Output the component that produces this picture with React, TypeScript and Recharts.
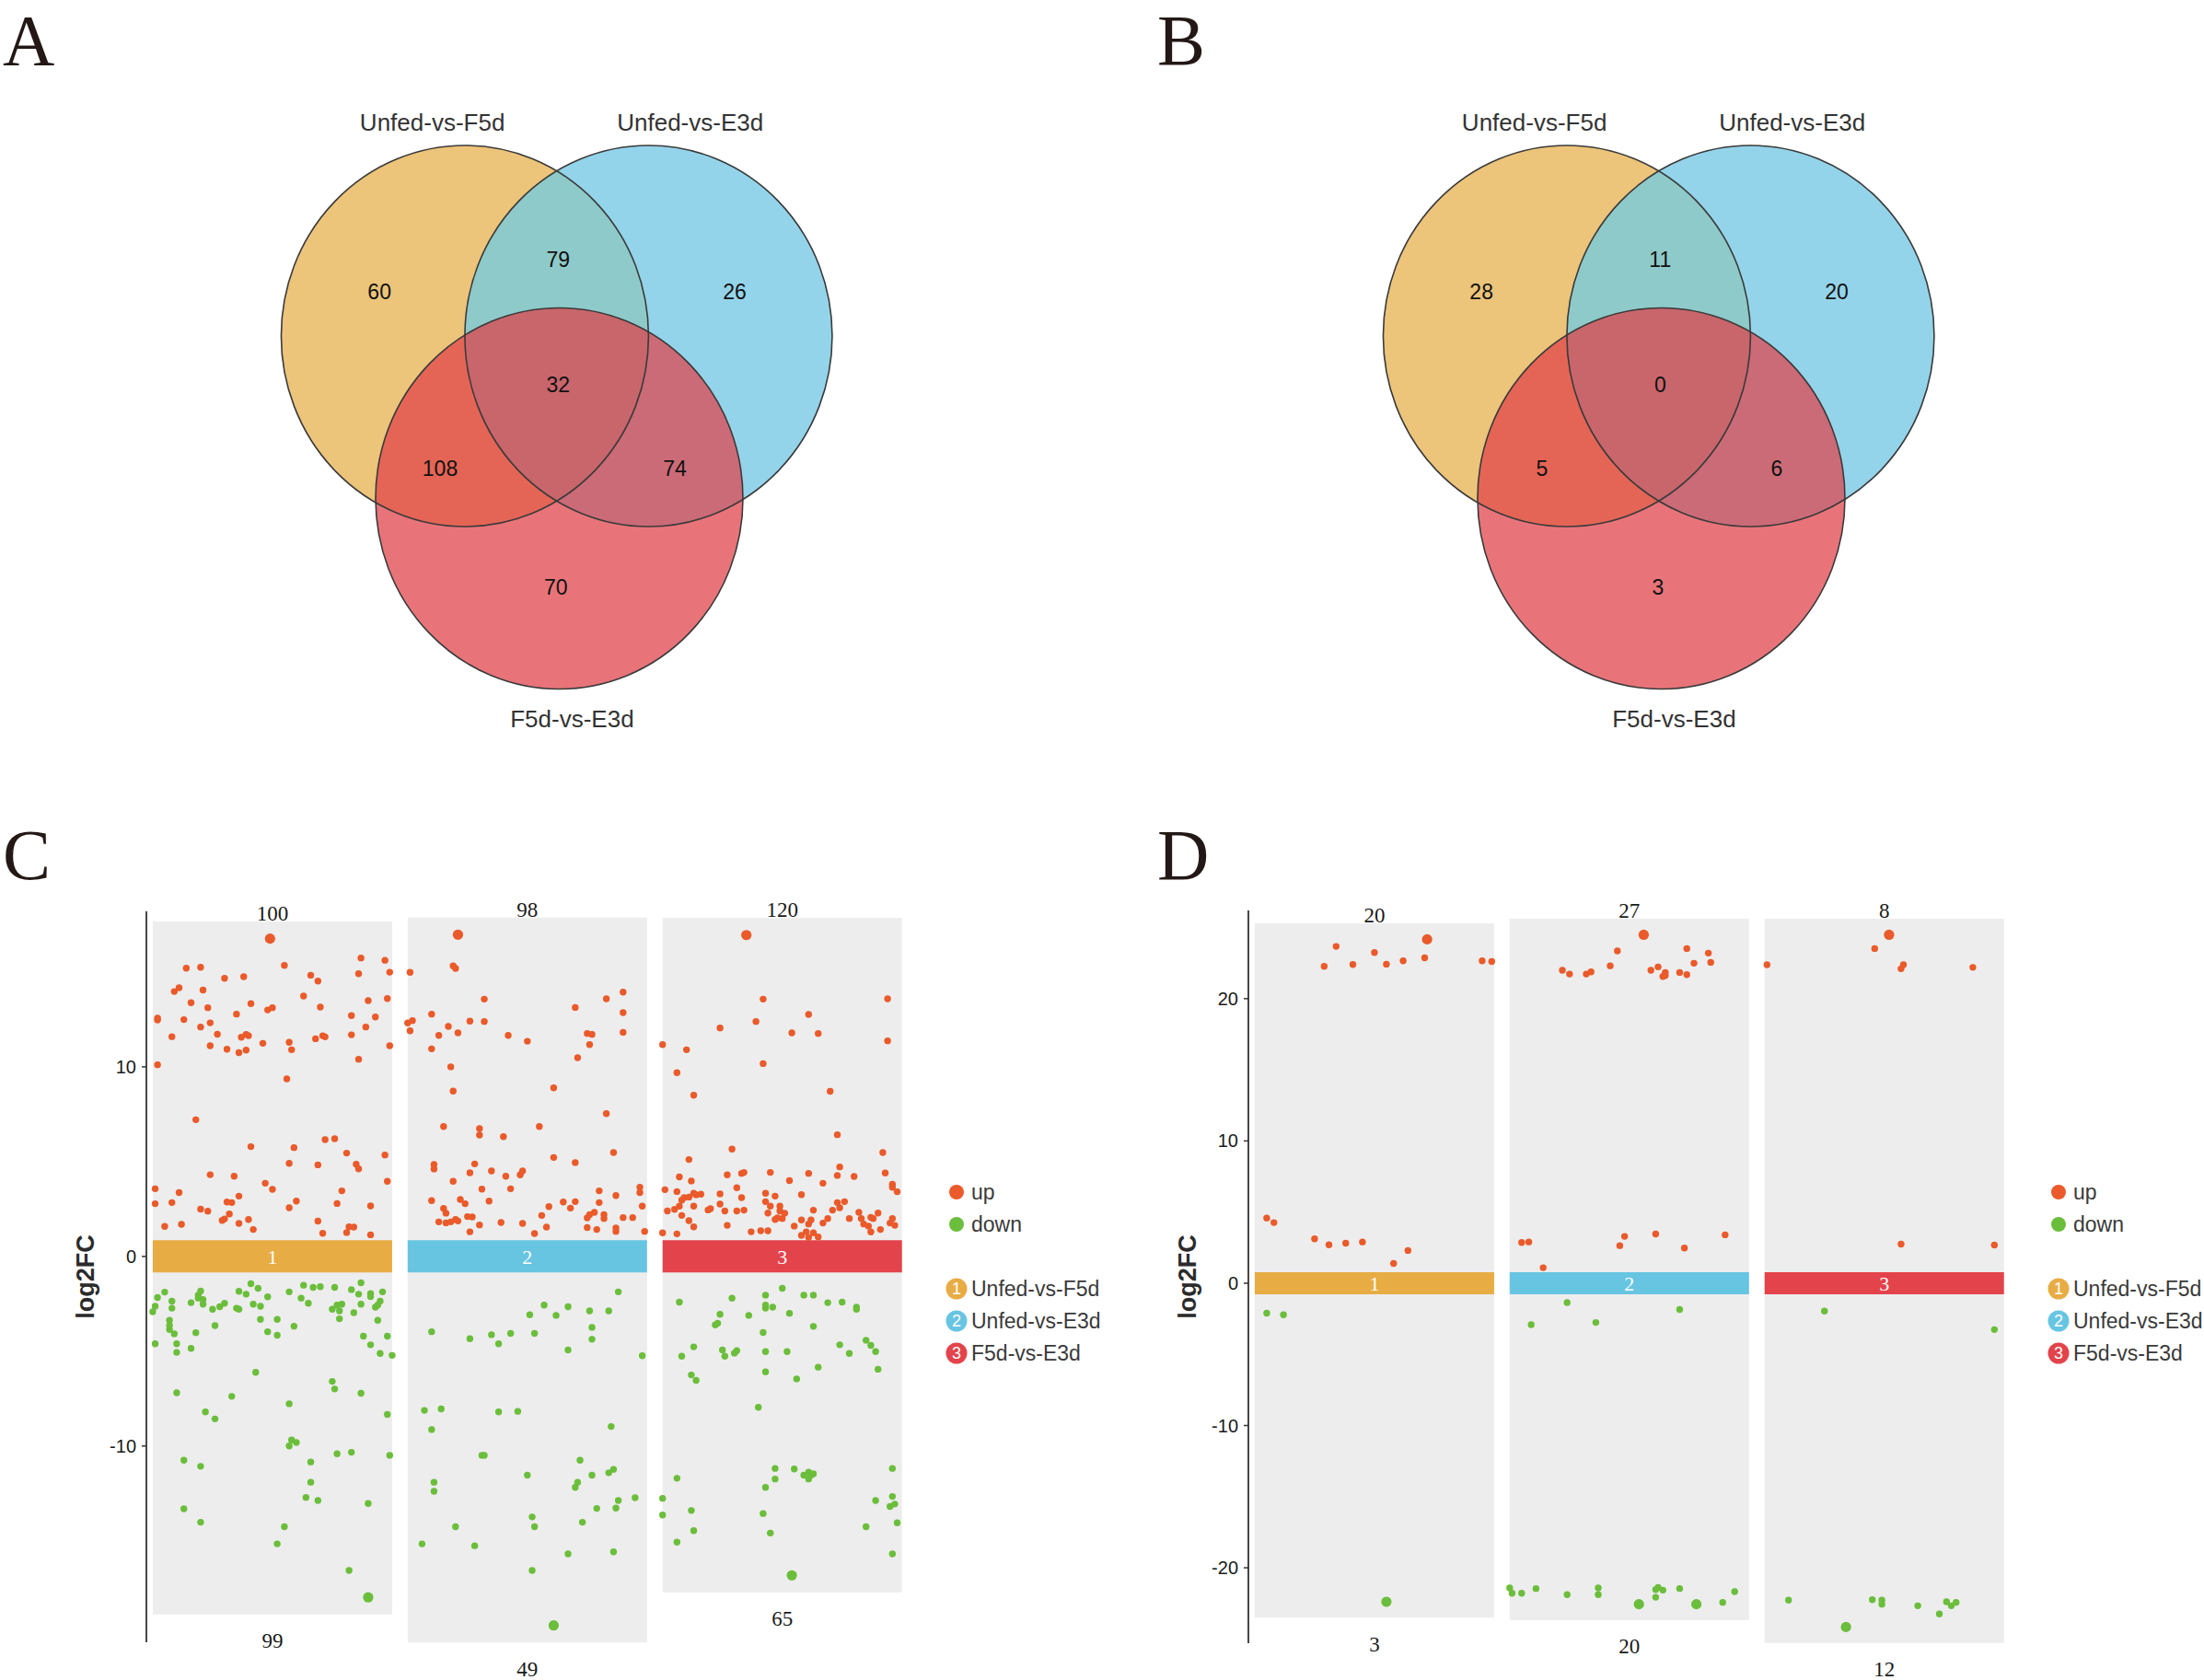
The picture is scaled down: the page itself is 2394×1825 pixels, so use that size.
import React from "react";
import { ScatterChart, Scatter, XAxis, YAxis, ReferenceArea } from "recharts";

const SANS = '"Liberation Sans", Arial, sans-serif';
const SERIF = '"Liberation Serif", "Times New Roman", serif';

const groups = ["Unfed-vs-F5d", "Unfed-vs-E3d", "F5d-vs-E3d"];
const groupColors = ["#E8AC45", "#68C5E2", "#E3434B"];
const UP_COLOR = "#EA5A2A";
const DOWN_COLOR = "#6BBE3B";

// venn region counts, order: only 1, 1&2, only 2, 1&2&3, 1&3, 2&3, only 3
const vennRegionKeys = ["1", "12", "2", "123", "13", "23", "3"];
const vennCountsA = [60, 79, 26, 32, 108, 74, 70];
const vennCountsB = [28, 11, 20, 0, 5, 6, 3];

// jitter scatter: [position inside group 0..1, log2FC]
type Pair = [number, number];

const cUp1: Pair[] = [
  [0.49, 16.76], [0.55, 15.35], [0.87, 15.74], [0.97, 15.62], [0.99, 14.99], [0.86, 14.91], [0.14, 15.2], [0.2, 15.25],
  [0.3, 14.67], [0.38, 14.75], [0.66, 14.83], [0.69, 14.52], [0.09, 13.97], [0.11, 14.17], [0.21, 14.05], [0.63, 13.73],
  [0.16, 13.38], [0.23, 13.12], [0.41, 13.33], [0.48, 13.0], [0.5, 13.12], [0.7, 13.15], [0.9, 13.49], [0.98, 13.6],
  [0.02, 12.57], [0.02, 12.47], [0.13, 12.49], [0.2, 12.1], [0.24, 12.32], [0.35, 12.78], [0.83, 12.7], [0.93, 12.63],
  [0.89, 12.1], [0.08, 11.59], [0.27, 11.72], [0.37, 11.56], [0.39, 11.71], [0.4, 11.64], [0.24, 11.11], [0.31, 10.93],
  [0.36, 10.75], [0.39, 10.88], [0.46, 11.24], [0.57, 11.29], [0.58, 10.9], [0.68, 11.48], [0.71, 11.64], [0.72, 11.58],
  [0.83, 11.69], [0.99, 11.11], [0.02, 10.11], [0.86, 10.4], [0.56, 9.36], [0.18, 7.21], [0.41, 5.79], [0.72, 6.16],
  [0.76, 6.21], [0.59, 5.74], [0.81, 5.45], [0.97, 5.35], [0.57, 4.91], [0.69, 4.83], [0.85, 4.86], [0.86, 4.62],
  [0.24, 4.31], [0.34, 4.23], [0.98, 3.96], [0.01, 3.57], [0.11, 3.37], [0.47, 3.86], [0.5, 3.54], [0.79, 3.46],
  [0.01, 2.78], [0.08, 2.84], [0.2, 2.49], [0.23, 2.39], [0.31, 2.87], [0.33, 2.84], [0.36, 3.18], [0.32, 2.24],
  [0.29, 1.9], [0.3, 1.98], [0.36, 1.74], [0.4, 1.95], [0.42, 1.42], [0.05, 1.58], [0.12, 1.69], [0.57, 2.57],
  [0.6, 2.92], [0.69, 1.86], [0.71, 1.22], [0.77, 2.79], [0.81, 1.26], [0.82, 1.56], [0.84, 1.55], [0.91, 1.14],
  [0.91, 2.66],
];
const cUp2: Pair[] = [
  [0.21, 16.97], [0.19, 15.32], [0.2, 15.19], [0.01, 14.98], [0.32, 13.57], [0.9, 13.94], [0.83, 13.59], [0.7, 13.13],
  [0.1, 12.78], [0.9, 12.86], [0.0, 12.31], [0.02, 12.44], [0.17, 12.13], [0.26, 12.41], [0.32, 12.39], [0.01, 11.9],
  [0.13, 11.66], [0.21, 11.79], [0.42, 11.66], [0.5, 11.35], [0.75, 11.76], [0.77, 11.71], [0.9, 11.82], [0.76, 11.17],
  [0.1, 10.95], [0.71, 10.48], [0.18, 10.0], [0.19, 8.72], [0.61, 8.89], [0.83, 7.53], [0.15, 6.85], [0.3, 6.74],
  [0.3, 6.4], [0.4, 6.32], [0.55, 6.85], [0.61, 5.22], [0.86, 5.48], [0.7, 4.95], [0.11, 4.85], [0.11, 4.61],
  [0.28, 4.88], [0.26, 4.41], [0.35, 4.51], [0.41, 4.23], [0.47, 4.3], [0.48, 4.51], [0.19, 3.96], [0.31, 3.55],
  [0.43, 3.57], [0.8, 3.46], [0.87, 3.21], [0.97, 3.65], [0.97, 3.37], [0.1, 2.94], [0.22, 3.0], [0.24, 2.78],
  [0.34, 2.92], [0.15, 2.53], [0.16, 2.28], [0.13, 1.82], [0.16, 1.77], [0.18, 1.82], [0.2, 1.95], [0.21, 1.87],
  [0.25, 2.1], [0.27, 2.08], [0.26, 1.3], [0.3, 1.66], [0.39, 1.79], [0.48, 1.74], [0.53, 1.21], [0.56, 2.16],
  [0.58, 1.55], [0.59, 2.63], [0.65, 2.87], [0.68, 2.55], [0.7, 2.89], [0.75, 1.52], [0.75, 2.03], [0.76, 2.2],
  [0.79, 1.42], [0.8, 2.84], [0.82, 2.2], [0.82, 2.0], [0.87, 1.5], [0.87, 1.32], [0.9, 2.05], [0.94, 2.05],
  [0.99, 1.32], [0.98, 2.65], [0.78, 2.32],
];
const cUp3: Pair[] = [
  [0.35, 16.95], [0.42, 13.57], [0.94, 13.59], [0.61, 12.76], [0.39, 12.39], [0.24, 12.05], [0.54, 11.79], [0.65, 11.76],
  [0.94, 11.37], [0.0, 11.17], [0.1, 10.9], [0.42, 10.17], [0.06, 9.69], [0.13, 8.5], [0.7, 8.71], [0.73, 6.42],
  [0.29, 5.66], [0.92, 5.48], [0.11, 5.11], [0.74, 4.72], [0.07, 4.19], [0.27, 4.3], [0.33, 4.38], [0.34, 4.43],
  [0.45, 4.43], [0.61, 4.38], [0.73, 4.27], [0.8, 4.22], [0.93, 4.4], [0.12, 3.98], [0.67, 3.86], [0.96, 3.81],
  [0.96, 3.65], [0.98, 3.41], [0.01, 3.52], [0.06, 3.42], [0.09, 3.1], [0.08, 2.97], [0.13, 3.33], [0.14, 3.25],
  [0.16, 3.28], [0.11, 3.13], [0.13, 2.65], [0.24, 3.3], [0.31, 3.62], [0.33, 3.1], [0.43, 3.33], [0.47, 3.18],
  [0.58, 3.26], [0.02, 2.4], [0.05, 2.48], [0.07, 2.65], [0.08, 2.16], [0.11, 1.89], [0.13, 1.56], [0.19, 2.45],
  [0.2, 2.52], [0.24, 2.76], [0.26, 2.4], [0.27, 1.64], [0.31, 2.4], [0.34, 2.44], [0.43, 2.89], [0.45, 2.65],
  [0.44, 2.29], [0.49, 2.65], [0.49, 2.4], [0.51, 2.28], [0.5, 2.0], [0.47, 1.95], [0.48, 2.03], [0.53, 4.0],
  [0.55, 1.6], [0.58, 1.92], [0.6, 1.3], [0.61, 1.71], [0.62, 1.92], [0.63, 1.24], [0.63, 2.44], [0.65, 1.03],
  [0.67, 1.76], [0.69, 2.0], [0.71, 2.44], [0.73, 2.84], [0.74, 2.57], [0.76, 2.89], [0.78, 2.0], [0.82, 2.32],
  [0.83, 2.0], [0.84, 1.71], [0.86, 1.6], [0.87, 2.06], [0.87, 1.29], [0.88, 2.0], [0.9, 2.29], [0.91, 1.42],
  [0.95, 1.76], [0.96, 2.0], [0.97, 1.64], [0.37, 1.3], [0.41, 1.35], [0.44, 1.35], [0.06, 1.19], [0.0, 1.24],
  [0.58, 1.11], [0.61, 1.0],
];
const cDown1: Pair[] = [
  [0.0, -2.92], [0.01, -2.63], [0.02, -2.17], [0.05, -1.88], [0.08, -2.36], [0.08, -2.73], [0.07, -3.37], [0.07, -3.65],
  [0.07, -3.86], [0.09, -4.08], [0.01, -4.61], [0.1, -4.61], [0.1, -5.06], [0.16, -4.85], [0.18, -4.02], [0.16, -2.44],
  [0.19, -2.04], [0.2, -1.83], [0.21, -2.28], [0.21, -2.52], [0.19, -2.2], [0.25, -2.79], [0.26, -3.65], [0.28, -2.65],
  [0.3, -2.47], [0.36, -1.84], [0.35, -2.73], [0.36, -2.79], [0.39, -1.99], [0.41, -1.44], [0.44, -1.68], [0.42, -2.52],
  [0.45, -2.63], [0.48, -2.13], [0.45, -3.32], [0.48, -3.97], [0.52, -4.16], [0.52, -3.32], [0.57, -1.87], [0.62, -2.2],
  [0.63, -1.52], [0.65, -2.47], [0.67, -1.63], [0.7, -1.6], [0.59, -3.68], [0.76, -1.63], [0.75, -2.79], [0.77, -2.57],
  [0.78, -2.87], [0.78, -3.29], [0.79, -2.52], [0.83, -1.75], [0.84, -2.97], [0.86, -1.99], [0.87, -1.39], [0.87, -2.52],
  [0.91, -2.12], [0.91, -1.96], [0.93, -2.68], [0.94, -2.57], [0.95, -2.36], [0.96, -1.87], [0.94, -3.37], [0.88, -4.21],
  [0.91, -4.66], [0.95, -5.12], [0.98, -4.21], [1.0, -5.22], [0.43, -6.11], [0.1, -7.19], [0.33, -7.38], [0.22, -8.2],
  [0.26, -8.57], [0.57, -7.77], [0.75, -6.59], [0.76, -6.99], [0.87, -7.22], [0.98, -8.33], [0.13, -10.75], [0.2, -11.07],
  [0.57, -10.0], [0.58, -9.68], [0.6, -9.81], [0.66, -10.84], [0.66, -11.91], [0.64, -12.71], [0.69, -12.87], [0.77, -10.41],
  [0.83, -10.33], [0.99, -10.49], [0.13, -13.31], [0.2, -14.02], [0.55, -14.26], [0.52, -15.16], [0.9, -13.03], [0.82, -16.56],
  [0.9, -17.98],
];
const cDown2: Pair[] = [
  [0.88, -1.87], [0.57, -2.57], [0.67, -2.65], [0.51, -3.08], [0.62, -3.11], [0.76, -2.87], [0.84, -2.87], [0.1, -3.97],
  [0.26, -4.34], [0.35, -4.13], [0.38, -4.61], [0.43, -4.06], [0.53, -4.06], [0.77, -3.74], [0.77, -4.37], [0.67, -4.93],
  [0.98, -5.24], [0.07, -8.12], [0.14, -8.04], [0.1, -9.13], [0.38, -8.2], [0.46, -8.17], [0.85, -8.97], [0.31, -10.49],
  [0.32, -10.49], [0.72, -10.75], [0.5, -11.54], [0.71, -11.91], [0.7, -12.18], [0.77, -11.54], [0.84, -11.41], [0.86, -11.23],
  [0.11, -11.91], [0.11, -12.39], [0.95, -12.73], [0.88, -12.87], [0.87, -13.27], [0.79, -13.29], [0.52, -13.74], [0.53, -14.26],
  [0.73, -14.02], [0.2, -14.26], [0.06, -15.16], [0.28, -15.26], [0.67, -15.69], [0.86, -15.58], [0.52, -16.56], [0.61, -19.46],
];
const cDown3: Pair[] = [
  [0.5, -1.68], [0.59, -2.04], [0.63, -2.04], [0.43, -2.04], [0.07, -2.41], [0.29, -2.2], [0.69, -2.44], [0.75, -2.41],
  [0.81, -2.68], [0.81, -2.79], [0.43, -2.73], [0.43, -2.57], [0.46, -2.68], [0.53, -3.0], [0.24, -3.05], [0.36, -3.11],
  [0.23, -3.53], [0.22, -3.61], [0.63, -3.69], [0.42, -4.01], [0.13, -4.77], [0.08, -5.26], [0.25, -4.93], [0.26, -5.26],
  [0.3, -5.1], [0.31, -4.97], [0.43, -5.02], [0.52, -5.02], [0.74, -4.66], [0.78, -5.12], [0.85, -4.42], [0.87, -4.69],
  [0.89, -5.02], [0.9, -5.95], [0.65, -5.84], [0.43, -6.09], [0.12, -6.25], [0.14, -6.54], [0.56, -6.46], [0.4, -7.96],
  [0.06, -11.7], [0.47, -11.18], [0.55, -11.21], [0.47, -11.74], [0.43, -12.18], [0.59, -11.54], [0.61, -11.38], [0.62, -11.54],
  [0.61, -11.74], [0.63, -11.46], [0.96, -11.18], [0.0, -12.76], [0.0, -13.64], [0.12, -13.4], [0.13, -14.46], [0.06, -15.07],
  [0.42, -13.56], [0.45, -14.59], [0.85, -14.26], [0.89, -12.87], [0.96, -12.66], [0.95, -13.19], [0.97, -13.06], [0.98, -14.05],
  [0.96, -15.69], [0.54, -16.82],
];
const cTopCounts = [100, 98, 120];
const cBottomCounts = [99, 49, 65];
const cTicks = [-10, 0, 10];

const dUp1: Pair[] = [
  [0.05, 4.58], [0.08, 4.26], [0.25, 3.12], [0.31, 2.7], [0.38, 2.81], [0.45, 2.9], [0.58, 1.39], [0.64, 2.3],
  [0.29, 22.27], [0.34, 23.67], [0.41, 22.4], [0.5, 23.24], [0.55, 22.42], [0.62, 22.66], [0.71, 22.87], [0.72, 24.17],
  [0.95, 22.66], [0.99, 22.61],
];
const dUp2: Pair[] = [
  [0.56, 24.49], [0.45, 23.35], [0.74, 23.52], [0.83, 23.2], [0.84, 22.55], [0.77, 22.49], [0.42, 22.31], [0.22, 21.99],
  [0.25, 21.73], [0.32, 21.73], [0.34, 21.88], [0.59, 21.99], [0.62, 22.23], [0.65, 21.84], [0.65, 21.62], [0.64, 21.56],
  [0.71, 21.84], [0.74, 21.69], [0.05, 2.86], [0.08, 2.9], [0.14, 1.09], [0.46, 2.64], [0.48, 3.29], [0.61, 3.46],
  [0.73, 2.47], [0.9, 3.4],
];
const dUp3: Pair[] = [
  [0.52, 24.49], [0.46, 23.52], [0.58, 22.38], [0.57, 22.1], [0.01, 22.38], [0.87, 22.2], [0.57, 2.75], [0.96, 2.68],
];
const dDown1: Pair[] = [[0.05, -2.11], [0.12, -2.22], [0.55, -22.39]];
const dDown2: Pair[] = [
  [0.24, -1.36], [0.71, -1.85], [0.09, -2.91], [0.36, -2.76], [0.0, -21.42], [0.01, -21.79], [0.05, -21.79], [0.11, -21.46],
  [0.24, -21.89], [0.37, -21.42], [0.37, -21.89], [0.54, -22.56], [0.61, -22.07], [0.61, -21.53], [0.62, -21.38], [0.64, -21.57],
  [0.71, -21.46], [0.78, -22.56], [0.89, -22.43], [0.94, -21.68],
];
const dDown3: Pair[] = [
  [0.25, -1.96], [0.96, -3.26], [0.1, -22.28], [0.45, -22.24], [0.49, -22.28], [0.49, -22.56], [0.64, -22.67], [0.73, -23.25],
  [0.76, -22.39], [0.78, -22.67], [0.8, -22.43], [0.34, -24.16],
];
const dTopCounts = [20, 27, 8];
const dBottomCounts = [3, 20, 12];
const dTicks = [-20, -10, 0, 10, 20];

// ---------- venn layout (unit circles) ----------
const VENN_W = 1197;
const VENN_H = 880;
const VX: [number, number] = [-3.031, 2.969];
const VY: [number, number] = [-2.488, 1.763];
const vennCenters = [[-0.5, 0], [0.5, 0], [0.014, -0.853]];
const vennNamePos = [[-0.677, 1.121], [0.727, 1.121], [0.084, -2.009]];
const vennCountPos: Record<string, number[]> = {
  "1": [-0.965, 0.232], "12": [0.008, 0.404], "2": [0.969, 0.232], "123": [0.008, -0.256],
  "13": [-0.635, -0.693], "23": [0.643, -0.693], "3": [-0.004, -1.317],
};
const vennSoloFill = ["#ECC47A", "#94D4EA", "#E8747A"];
const vennOverlaps = [
  { key: "12", base: 1, clips: [0], fill: "#8ECAC9" },
  { key: "13", base: 2, clips: [0], fill: "#E46556" },
  { key: "23", base: 2, clips: [1], fill: "#CB6B77" },
  { key: "123", base: 2, clips: [0, 1], fill: "#C8666C" },
];

function Venn({ id, counts, left }: { id: string; counts: number[]; left: number }) {
  const rx = VENN_W / (VX[1] - VX[0]);
  const ry = VENN_H / (VY[1] - VY[0]);
  const sets = groups.map((name, i) => ({ x: vennCenters[i][0], y: vennCenters[i][1], i, name }));
  const overlaps = vennOverlaps.map((o) => ({ ...o, x: vennCenters[o.base][0], y: vennCenters[o.base][1] }));
  const regions = vennRegionKeys.map((k, i) => ({ x: vennCountPos[k][0], y: vennCountPos[k][1], value: counts[i] }));
  const names = groups.map((name, i) => ({ x: vennNamePos[i][0], y: vennNamePos[i][1], name }));

  return (
    <div style={{ position: "absolute", left, top: 0 }}>
      <ScatterChart width={VENN_W} height={VENN_H} margin={{ top: 0, right: 0, bottom: 0, left: 0 }}>
        <XAxis type="number" dataKey="x" domain={VX} hide allowDataOverflow />
        <YAxis type="number" dataKey="y" domain={VY} hide allowDataOverflow />
        <Scatter
          data={sets}
          isAnimationActive={false}
          shape={(p: any) => (
            <g>
              <defs>
                <clipPath id={`${id}-clip-${p.payload.i}`}>
                  <ellipse cx={p.cx} cy={p.cy} rx={rx} ry={ry} />
                </clipPath>
              </defs>
              <ellipse cx={p.cx} cy={p.cy} rx={rx} ry={ry} fill={vennSoloFill[p.payload.i]} />
            </g>
          )}
        />
        <Scatter
          data={overlaps}
          isAnimationActive={false}
          shape={(p: any) => {
            let el = <ellipse cx={p.cx} cy={p.cy} rx={rx} ry={ry} fill={p.payload.fill} />;
            p.payload.clips.forEach((c: number) => {
              el = <g clipPath={`url(#${id}-clip-${c})`}>{el}</g>;
            });
            return el;
          }}
        />
        <Scatter
          data={sets}
          isAnimationActive={false}
          shape={(p: any) => (
            <ellipse cx={p.cx} cy={p.cy} rx={rx} ry={ry} fill="none" stroke="#3a3a3a" strokeWidth={1.6} />
          )}
        />
        <Scatter
          data={regions}
          isAnimationActive={false}
          shape={(p: any) => (
            <text x={p.cx} y={p.cy} dy="0.36em" textAnchor="middle" fontFamily={SANS} fontSize={23} fill="#111">
              {p.payload.value}
            </text>
          )}
        />
        <Scatter
          data={names}
          isAnimationActive={false}
          shape={(p: any) => (
            <text x={p.cx} y={p.cy} dy="0.36em" textAnchor="middle" fontFamily={SANS} fontSize={26} fill="#333">
              {p.payload.name}
            </text>
          )}
        />
      </ScatterChart>
    </div>
  );
}

// ---------- jitter panels ----------
const COLW = 0.939;

function JitterPanel(props: {
  left: number;
  up: Pair[][];
  down: Pair[][];
  topCounts: number[];
  bottomCounts: number[];
  domain: [number, number];
  ticks: number[];
  pad: number;
  band: number;
  marginTop: number;
  marginBottom: number;
}) {
  const { left, up, down, topCounts, bottomCounts, domain, ticks, pad, band, marginTop, marginBottom } = props;

  const build = (cols: Pair[][], isUp: boolean) =>
    cols.flatMap((col, k) => {
      const vals = col.map((c) => c[1]);
      const ext = isUp ? Math.max(...vals) : Math.min(...vals);
      return col.map(([f, v]) => ({ x: k + f * COLW, y: v, big: v === ext }));
    });
  const upPts = build(up, true);
  const downPts = build(down, false);
  const tops = up.map((col) => Math.max(...col.map((c) => c[1])) + pad);
  const bottoms = down.map((col) => Math.min(...col.map((c) => c[1])) - pad);

  const dot = (color: string) => (p: any) => (
    <circle cx={p.cx} cy={p.cy} r={p.payload.big ? 5.6 : 3.7} fill={color} />
  );

  const legendRows = [
    { y: 25, kind: "dot", color: UP_COLOR, text: "up" },
    { y: 60, kind: "dot", color: DOWN_COLOR, text: "down" },
    ...groups.map((g, i) => ({ y: 130 + i * 35, kind: "num", color: groupColors[i], text: g, n: i + 1 })),
  ];

  return (
    <div style={{ position: "absolute", left, top: 960, width: 1197, height: 865 }}>
      <ScatterChart
        width={1197}
        height={865}
        margin={{ top: marginTop, right: 217, bottom: marginBottom, left: 69 }}
      >
        <XAxis type="number" dataKey="x" domain={[-0.025, 2.94]} hide allowDataOverflow />
        <YAxis
          type="number"
          dataKey="y"
          domain={domain}
          ticks={ticks}
          interval={0}
          width={90}
          allowDataOverflow
          axisLine={{ stroke: "#333", strokeWidth: 1.8 }}
          tickLine={{ stroke: "#333", strokeWidth: 1.5 }}
          tickSize={5}
          tickMargin={6}
          tick={{ fontSize: 20, fill: "#1a1a1a", fontFamily: SANS, style: { fontFamily: SANS } }}
          label={{
            value: "log2FC",
            angle: -90,
            position: "insideLeft",
            offset: 23,
            fontSize: 27,
            fontWeight: "bold",
            fontFamily: SANS,
            fill: "#2b2b2b",
            style: { textAnchor: "middle", fontFamily: SANS },
          }}
        />
        {groups.map((g, k) => (
          <ReferenceArea
            key={`top-${g}`}
            x1={k}
            x2={k + COLW}
            y1={0}
            y2={tops[k]}
            ifOverflow="visible"
            fill="#EDEDED"
            fillOpacity={1}
            stroke="none"
            label={{ value: String(topCounts[k]), position: "top", offset: 1, fontFamily: SERIF, fontSize: 23, fill: "#1a1a1a" }}
          />
        ))}
        {groups.map((g, k) => (
          <ReferenceArea
            key={`bot-${g}`}
            x1={k}
            x2={k + COLW}
            y1={bottoms[k]}
            y2={0}
            ifOverflow="visible"
            fill="#EDEDED"
            fillOpacity={1}
            stroke="none"
            label={{ value: String(bottomCounts[k]), position: "bottom", offset: 20, fontFamily: SERIF, fontSize: 23, fill: "#1a1a1a" }}
          />
        ))}
        {groups.map((g, k) => (
          <ReferenceArea
            key={`band-${g}`}
            x1={k}
            x2={k + COLW}
            y1={-band}
            y2={band}
            ifOverflow="visible"
            fill={groupColors[k]}
            fillOpacity={1}
            stroke="none"
            label={{ value: String(k + 1), position: "center", fontFamily: SERIF, fontSize: 22, fill: "#fff" }}
          />
        ))}
        <Scatter name="up" data={upPts} isAnimationActive={false} shape={dot(UP_COLOR)} />
        <Scatter name="down" data={downPts} isAnimationActive={false} shape={dot(DOWN_COLOR)} />
      </ScatterChart>
      <svg style={{ position: "absolute", left: 1020, top: 310 }} width={177} height={230}>
        {legendRows.map((r: any) => (
          <g key={r.text}>
            {r.kind === "dot" ? (
              <circle cx={19} cy={r.y} r={8} fill={r.color} />
            ) : (
              <g>
                <circle cx={19} cy={r.y} r={11.5} fill={r.color} />
                <text x={19} y={r.y} dy="0.36em" textAnchor="middle" fontFamily={SANS} fontSize={18} fill="#fff">
                  {r.n}
                </text>
              </g>
            )}
            <text x={35} y={r.y} dy="0.36em" fontFamily={SANS} fontSize={23} fill="#3a3a3a">
              {r.text}
            </text>
          </g>
        ))}
      </svg>
    </div>
  );
}

export default function App() {
  return (
    <div style={{ position: "relative", width: 2394, height: 1825, background: "#fff", overflow: "hidden" }}>
      <style>{"body{margin:0}"}</style>
      <Venn id="vennA" counts={vennCountsA} left={0} />
      <Venn id="vennB" counts={vennCountsB} left={1197} />
      <JitterPanel
        left={0}
        up={[cUp1, cUp2, cUp3]}
        down={[cDown1, cDown2, cDown3]}
        topCounts={cTopCounts}
        bottomCounts={cBottomCounts}
        domain={[-20.35, 18.2]}
        ticks={cTicks}
        pad={0.9}
        band={0.85}
        marginTop={30}
        marginBottom={41}
      />
      <JitterPanel
        left={1197}
        up={[dUp1, dUp2, dUp3]}
        down={[dDown1, dDown2, dDown3]}
        topCounts={dTopCounts}
        bottomCounts={dBottomCounts}
        domain={[-25.3, 26.2]}
        ticks={dTicks}
        pad={1.12}
        band={0.78}
        marginTop={29}
        marginBottom={40}
      />
      <svg style={{ position: "absolute", left: 0, top: 0, pointerEvents: "none" }} width={2394} height={1825}>
        <g fontFamily={SERIF} fontSize={78} fill="#231815">
          <text x={3} y={70}>A</text>
          <text x={1257} y={70}>B</text>
          <text x={3} y={955}>C</text>
          <text x={1257} y={955}>D</text>
        </g>
      </svg>
    </div>
  );
}
